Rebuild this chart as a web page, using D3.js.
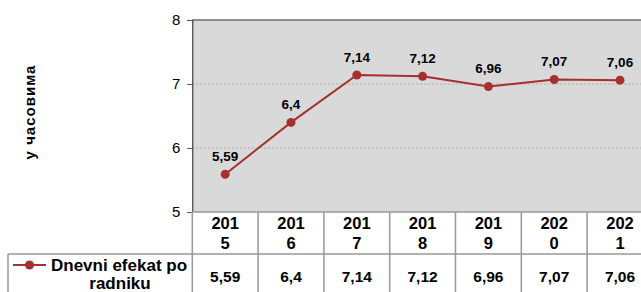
<!DOCTYPE html>
<html><head><meta charset="utf-8">
<script src="https://cdn.jsdelivr.net/npm/d3@7"></script>
<style>html,body{margin:0;padding:0;background:#fff;overflow:hidden}svg{display:block;font-family:"Liberation Sans",Arial,sans-serif}</style>
</head><body>
<svg id="c" width="641" height="292"></svg>
<script>
const years = ["2015","2016","2017","2018","2019","2020","2021"];
const values = [5.59, 6.4, 7.14, 7.12, 6.96, 7.07, 7.06];
const valueLabels = ["5,59","6,4","7,14","7,12","6,96","7,07","7,06"];
const yTicks = [5, 6, 7, 8];
const seriesName = "Dnevni efekat po radniku";
const yTitle = "у часовима";

(function(){
const svg = d3.select("#c");
const pLeft = 192.3, band = 65.8, pTop = 20, pBottom = 212;
const x = d3.scaleBand().domain(years).range([pLeft, pLeft + band * years.length]).padding(0);
const y = d3.scaleLinear().domain([5, 8]).range([pBottom, pTop]);
const color = "#a5302f";
const gridColor = "#999";

svg.append("rect").attr("x", pLeft).attr("y", pTop).attr("width", 641 - pLeft).attr("height", pBottom - pTop).attr("fill", "#d9d9d9");
svg.append("g").selectAll("line").data([6, 7]).join("line")
  .attr("x1", pLeft).attr("x2", 641).attr("y1", d => y(d)).attr("y2", d => y(d))
  .attr("stroke", "#aaa").attr("stroke-width", 1).attr("stroke-dasharray", "2,2");
svg.append("line").attr("x1", pLeft).attr("x2", 641).attr("y1", pTop).attr("y2", pTop).attr("stroke", "#8c8c8c").attr("stroke-width", 2);

const yAxis = d3.axisLeft(y).tickValues(yTicks).tickSize(5).tickPadding(7).tickFormat(d3.format("d"));
const ga = svg.append("g").attr("transform", `translate(${pLeft},0)`).call(yAxis);
ga.select(".domain").attr("stroke", "#222");
ga.selectAll(".tick line").attr("stroke", "#555");
ga.selectAll("text").attr("font-size", 15).attr("fill", "#000").attr("font-family", '"Liberation Sans",Arial,sans-serif');

svg.append("text").attr("transform", "translate(35,112) rotate(-90)").attr("text-anchor", "middle")
  .attr("font-size", 15).attr("letter-spacing", 1).attr("font-weight", "bold").text(yTitle);

const cx = d => x(d) + x.bandwidth() / 2;
const line = d3.line().x((d, i) => cx(years[i])).y(d => y(d));
svg.append("path").datum(values).attr("d", line).attr("fill", "none").attr("stroke", color).attr("stroke-width", 2);
svg.append("g").selectAll("circle").data(values).join("circle")
  .attr("cx", (d, i) => cx(years[i])).attr("cy", d => y(d)).attr("r", 4.5).attr("fill", color);
svg.append("g").selectAll("text").data(values).join("text")
  .attr("x", (d, i) => cx(years[i])).attr("y", d => y(d) - 13.3).attr("text-anchor", "middle")
  .attr("font-size", 13.5).attr("font-weight", "bold").text((d, i) => valueLabels[i]);

const tbl = svg.append("g");
const rowSplit = 254;
tbl.append("line").attr("x1", pLeft).attr("x2", 641).attr("y1", pBottom).attr("y2", pBottom).attr("stroke", gridColor).attr("stroke-width", 1.5);
tbl.append("line").attr("x1", 8).attr("x2", 641).attr("y1", rowSplit).attr("y2", rowSplit).attr("stroke", gridColor).attr("stroke-width", 1.5);
tbl.append("line").attr("x1", 8).attr("x2", 8).attr("y1", rowSplit).attr("y2", 292).attr("stroke", gridColor).attr("stroke-width", 1.5);
tbl.selectAll(".vl").data(years.slice(1)).join("line").attr("class", "vl")
  .attr("x1", d => x(d)).attr("x2", d => x(d)).attr("y1", pBottom).attr("y2", 292)
  .attr("stroke", gridColor).attr("stroke-width", 1.5);
tbl.append("line").attr("x1", pLeft).attr("x2", pLeft).attr("y1", pBottom).attr("y2", 292).attr("stroke", gridColor).attr("stroke-width", 1.5);

const hdr = tbl.selectAll(".yr").data(years).join("text").attr("class", "yr")
  .attr("text-anchor", "middle").attr("font-size", 16.5).attr("font-weight", "bold");
hdr.append("tspan").attr("x", d => cx(d)).attr("y", 229.3).text(d => d.slice(0, 3));
hdr.append("tspan").attr("x", d => cx(d)).attr("y", 249.3).text(d => d.slice(3));

tbl.selectAll(".val").data(valueLabels).join("text").attr("class", "val")
  .attr("x", (d, i) => cx(years[i])).attr("y", 281.5).attr("text-anchor", "middle")
  .attr("font-size", 15.5).attr("font-weight", "bold").text(d => d);

const words = seriesName.split(" ");
const l1 = words.slice(0, 3).join(" "), l2 = words.slice(3).join(" ");
tbl.append("line").attr("x1", 13).attr("x2", 46).attr("y1", 265).attr("y2", 265).attr("stroke", color).attr("stroke-width", 2);
tbl.append("circle").attr("cx", 29.5).attr("cy", 265).attr("r", 4.5).attr("fill", color);
tbl.append("text").attr("x", 51).attr("y", 271).attr("font-size", 17).attr("font-weight", "bold").text(l1);
tbl.append("text").attr("x", 120).attr("y", 288.5).attr("text-anchor", "middle").attr("font-size", 17).attr("font-weight", "bold").text(l2);
})();
</script>
</body></html>
